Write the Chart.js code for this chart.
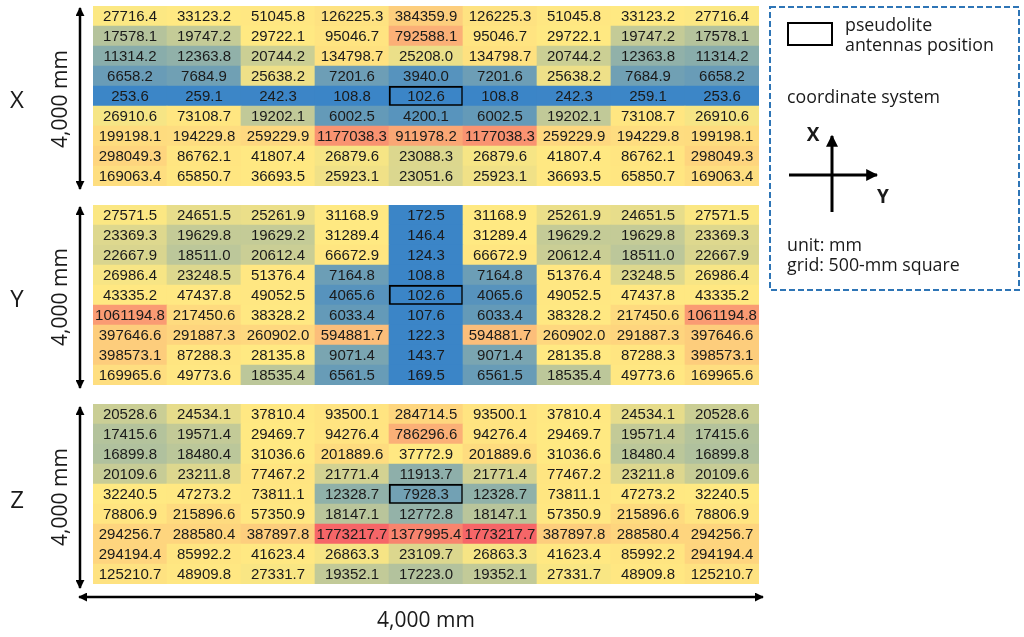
<!DOCTYPE html>
<html>
<head>
<meta charset="utf-8">
<script src="https://cdn.jsdelivr.net/npm/chart.js@4.4.1/dist/chart.umd.min.js"></script>
<style>
  body { margin: 0; background: #fff; }
  #page { position: relative; width: 1024px; height: 637px; overflow: hidden;
          font-family: "Open Sans", sans-serif; color: #1a1a1a; }
  .grid { position: absolute; left: 93px; }
  .lbl { position: absolute; white-space: nowrap; transform: translate(-50%, -50%); }
  .comp { font-size: 24px; }
  .len { font-size: 21px; }
  .vert { transform: translate(-50%, -50%) rotate(-90deg); }
  .leg { position: absolute; font-size: 17.8px; line-height: 20px; white-space: nowrap; }
  svg { position: absolute; left: 0; top: 0; }
</style>
</head>
<body>
<div id="page">
  <canvas id="gridX" class="grid" width="666" height="180" style="top:6px"></canvas>
  <canvas id="gridY" class="grid" width="666" height="180" style="top:205px"></canvas>
  <canvas id="gridZ" class="grid" width="666" height="180" style="top:404px"></canvas>

  <svg width="1024" height="637">
    <defs>
      <marker id="head" viewBox="0 0 10 10" refX="9" refY="5" markerWidth="3.6" markerHeight="3.6" orient="auto-start-reverse">
        <path d="M0,0 L10,5 L0,10 z" fill="#000"/>
      </marker>
      <marker id="head2" viewBox="0 0 10 10" refX="9" refY="5" markerWidth="4" markerHeight="4" orient="auto">
        <path d="M0,0 L10,5 L0,10 z" fill="#000"/>
      </marker>
    </defs>
    <line x1="80" y1="8" x2="80" y2="189" stroke="#000" stroke-width="2.5" marker-start="url(#head)" marker-end="url(#head)"/>
    <line x1="80" y1="207" x2="80" y2="388" stroke="#000" stroke-width="2.5" marker-start="url(#head)" marker-end="url(#head)"/>
    <line x1="80" y1="407" x2="80" y2="588" stroke="#000" stroke-width="2.5" marker-start="url(#head)" marker-end="url(#head)"/>
    <line x1="79" y1="597" x2="763" y2="597" stroke="#000" stroke-width="2.5" marker-start="url(#head)" marker-end="url(#head)"/>

    <rect x="770" y="7" width="249" height="283" fill="none" stroke="#2e75b6" stroke-width="2" stroke-dasharray="6,3"/>
    <rect x="788" y="23" width="44" height="22" fill="none" stroke="#000" stroke-width="2"/>
    <line x1="832" y1="212" x2="832" y2="136" stroke="#000" stroke-width="3" marker-end="url(#head2)"/>
    <line x1="789" y1="175" x2="877" y2="175" stroke="#000" stroke-width="3" marker-end="url(#head2)"/>
  </svg>

  <div class="lbl comp" style="left:17px;top:98px">X</div>
  <div class="lbl comp" style="left:17px;top:297px">Y</div>
  <div class="lbl comp" style="left:17px;top:498px">Z</div>
  <div class="lbl len vert" style="left:59px;top:99px">4,000 mm</div>
  <div class="lbl len vert" style="left:59px;top:297px">4,000 mm</div>
  <div class="lbl len vert" style="left:59px;top:497px">4,000 mm</div>
  <div class="lbl len" style="left:426px;top:619px">4,000 mm</div>

  <div class="leg" style="left:845px;top:14px">pseudolite</div>
  <div class="leg" style="left:845px;top:34px">antennas position</div>
  <div class="leg" style="left:787px;top:86px">coordinate system</div>
  <div class="lbl" style="left:813px;top:134px;font-size:19px;font-weight:bold">X</div>
  <div class="lbl" style="left:883px;top:196px;font-size:19px;font-weight:bold">Y</div>
  <div class="leg" style="left:787px;top:234px">unit: mm</div>
  <div class="leg" style="left:787px;top:254px">grid: 500-mm square</div>
</div>

<script>
// column positions across the grid (mm) and the grid step
const gridCols = ['0', '500', '1000', '1500', '2000', '2500', '3000', '3500', '4000'];
const gridRows = ['4000', '3500', '3000', '2500', '2000', '1500', '1000', '500', '0'];
const cellMm = 500;

// antenna position (row, col) in every grid
const antennaCell = [4, 4];

// values per grid, rows from top to bottom
const xGrid = [
  [27716.4, 33123.2, 51045.8, 126225.3, 384359.9, 126225.3, 51045.8, 33123.2, 27716.4],
  [17578.1, 19747.2, 29722.1, 95046.7, 792588.1, 95046.7, 29722.1, 19747.2, 17578.1],
  [11314.2, 12363.8, 20744.2, 134798.7, 25208.0, 134798.7, 20744.2, 12363.8, 11314.2],
  [6658.2, 7684.9, 25638.2, 7201.6, 3940.0, 7201.6, 25638.2, 7684.9, 6658.2],
  [253.6, 259.1, 242.3, 108.8, 102.6, 108.8, 242.3, 259.1, 253.6],
  [26910.6, 73108.7, 19202.1, 6002.5, 4200.1, 6002.5, 19202.1, 73108.7, 26910.6],
  [199198.1, 194229.8, 259229.9, 1177038.3, 911978.2, 1177038.3, 259229.9, 194229.8, 199198.1],
  [298049.3, 86762.1, 41807.4, 26879.6, 23088.3, 26879.6, 41807.4, 86762.1, 298049.3],
  [169063.4, 65850.7, 36693.5, 25923.1, 23051.6, 25923.1, 36693.5, 65850.7, 169063.4]
];

const yGrid = [
  [27571.5, 24651.5, 25261.9, 31168.9, 172.5, 31168.9, 25261.9, 24651.5, 27571.5],
  [23369.3, 19629.8, 19629.2, 31289.4, 146.4, 31289.4, 19629.2, 19629.8, 23369.3],
  [22667.9, 18511.0, 20612.4, 66672.9, 124.3, 66672.9, 20612.4, 18511.0, 22667.9],
  [26986.4, 23248.5, 51376.4, 7164.8, 108.8, 7164.8, 51376.4, 23248.5, 26986.4],
  [43335.2, 47437.8, 49052.5, 4065.6, 102.6, 4065.6, 49052.5, 47437.8, 43335.2],
  [1061194.8, 217450.6, 38328.2, 6033.4, 107.6, 6033.4, 38328.2, 217450.6, 1061194.8],
  [397646.6, 291887.3, 260902.0, 594881.7, 122.3, 594881.7, 260902.0, 291887.3, 397646.6],
  [398573.1, 87288.3, 28135.8, 9071.4, 143.7, 9071.4, 28135.8, 87288.3, 398573.1],
  [169965.6, 49773.6, 18535.4, 6561.5, 169.5, 6561.5, 18535.4, 49773.6, 169965.6]
];

const zGrid = [
  [20528.6, 24534.1, 37810.4, 93500.1, 284714.5, 93500.1, 37810.4, 24534.1, 20528.6],
  [17415.6, 19571.4, 29469.7, 94276.4, 786296.6, 94276.4, 29469.7, 19571.4, 17415.6],
  [16899.8, 18480.4, 31036.6, 201889.6, 37772.9, 201889.6, 31036.6, 18480.4, 16899.8],
  [20109.6, 23211.8, 77467.2, 21771.4, 11913.7, 21771.4, 77467.2, 23211.8, 20109.6],
  [32240.5, 47273.2, 73811.1, 12328.7, 7928.3, 12328.7, 73811.1, 47273.2, 32240.5],
  [78806.9, 215896.6, 57350.9, 18147.1, 12772.8, 18147.1, 57350.9, 215896.6, 78806.9],
  [294256.7, 288580.4, 387897.8, 1773217.7, 1377995.4, 1773217.7, 387897.8, 288580.4, 294256.7],
  [294194.4, 85992.2, 41623.4, 26863.3, 23109.7, 26863.3, 41623.4, 85992.2, 294194.4],
  [125210.7, 48909.8, 27331.7, 19352.1, 17223.0, 19352.1, 27331.7, 48909.8, 125210.7]
];

// 3-colour scale (min blue, median yellow, max red) shared by all three grids
const lowColor = [59, 133, 199];
const midColor = [255, 233, 130];
const highColor = [246, 102, 104];

const allValues = xGrid.concat(yGrid, zGrid).flat().sort((a, b) => a - b);
const vMin = allValues[0];
const vMax = allValues[allValues.length - 1];
const vMid = allValues[Math.floor(allValues.length / 2)];

function mix(a, b, t) {
  return 'rgb(' + a.map((c, i) => Math.round(c + (b[i] - c) * t)).join(',') + ')';
}

function cellColor(v) {
  if (v <= vMid) return mix(lowColor, midColor, (v - vMin) / (vMid - vMin));
  return mix(midColor, highColor, (v - vMid) / (vMax - vMid));
}

const cellText = {
  id: 'cellText',
  afterDatasetsDraw(chart) {
    const ctx = chart.ctx;
    ctx.save();
    ctx.font = '15px "Liberation Sans", Arial, sans-serif';
    ctx.fillStyle = '#1a1a1a';
    ctx.textAlign = 'center';
    ctx.textBaseline = 'middle';
    chart.data.datasets.forEach((ds, i) => {
      chart.getDatasetMeta(i).data.forEach((bar, j) => {
        ctx.fillText(ds.values[j].toFixed(1), bar.x, (bar.y + bar.base) / 2 + 1);
      });
    });
    ctx.restore();
  }
};

function drawGrid(canvasId, rows) {
  // stacked bars start at the bottom, so the last row goes first
  const datasets = rows.map((row, r) => ({
    label: gridRows[r],
    values: row,
    data: row.map(() => cellMm),
    backgroundColor: row.map(v => cellColor(v)),
    borderColor: '#000',
    borderWidth: row.map((v, c) => (r === antennaCell[0] && c === antennaCell[1]) ? 2 : 0),
    borderSkipped: false,
    barPercentage: 1,
    categoryPercentage: 1
  })).reverse();

  new Chart(document.getElementById(canvasId), {
    type: 'bar',
    data: { labels: gridCols, datasets: datasets },
    options: {
      responsive: false,
      devicePixelRatio: 1,
      animation: false,
      layout: { padding: 0 },
      plugins: { legend: { display: false }, tooltip: { enabled: false } },
      scales: {
        x: { stacked: true, display: false },
        y: { stacked: true, display: false, min: 0, max: cellMm * gridRows.length }
      }
    },
    plugins: [cellText]
  });
}

drawGrid('gridX', xGrid);
drawGrid('gridY', yGrid);
drawGrid('gridZ', zGrid);
</script>
</body>
</html>
